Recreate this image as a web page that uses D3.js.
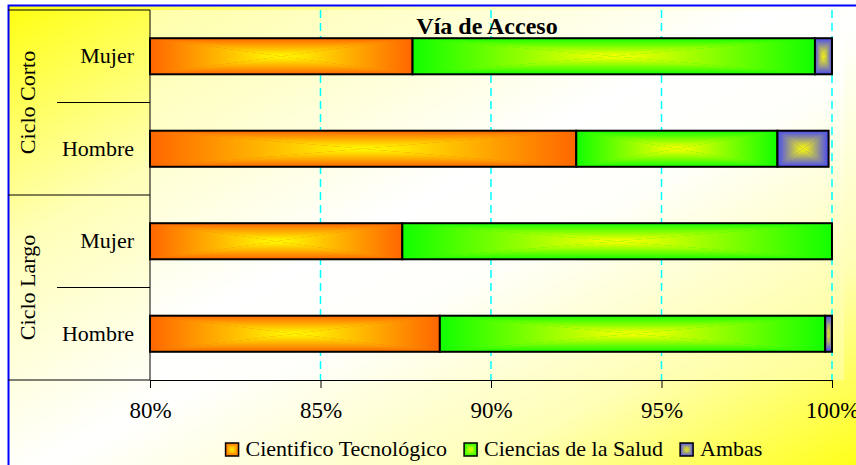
<!DOCTYPE html>
<html>
<head>
<meta charset="utf-8">
<script src="https://cdn.jsdelivr.net/npm/d3@7"></script>
<style>
  body { margin: 0; background: #fff; }
  svg { display: block; }
  text { font-family: "Liberation Serif", "Times New Roman", serif; fill: #000; }
</style>
</head>
<body>
<div id="chart"></div>
<script>
//Data (share of each row, in %)
var groups = ["Ciclo Corto", "Ciclo Largo"];
var rowLabels = ["Mujer", "Hombre", "Mujer", "Hombre"];
var rowGroups = ["Ciclo Corto", "Ciclo Corto", "Ciclo Largo", "Ciclo Largo"];
var seriesNames = ["Cientifico Tecnológico", "Ciencias de la Salud", "Ambas"];
var cientifico = [87.7, 92.5, 87.4, 88.5];
var salud = [11.8, 5.9, 12.6, 11.3];
var ambas = [0.5, 1.5, 0, 0.2];
var tickValues = [80, 85, 90, 95, 100];

//Colours of the box gradients (edge -> centre)
var edgeColors = ["#ff6600", "#11ff00", "#4848f4"];
var centerColor = "#ffff00";

var width = 856, height = 465;

var svg = d3.select("#chart").append("svg")
  .attr("width", width).attr("height", height);

var defs = svg.append("defs");

//background gradients
function diagGradient(id, stops) {
  var g = defs.append("linearGradient").attr("id", id)
    .attr("x1", 0).attr("y1", 0).attr("x2", 1).attr("y2", 1);
  stops.forEach(function(s) {
    g.append("stop").attr("offset", s[0]).attr("stop-color", s[1]);
  });
}
diagGradient("bg", [[0, "#ffff10"], [0.25, "#ffffb8"], [0.5, "#ffffff"], [0.75, "#ffffb8"], [1, "#ffff00"]]);
diagGradient("pbg", [[0, "#ffffa8"], [0.45, "#ffffff"], [0.6, "#fffffa"], [1, "#ffff90"]]);

//box gradients : one for each side of the rectangle
var keys = ["ct", "cs", "am"];
keys.forEach(function(k, i) {
  var dirs = {
    t: [0, 0, 0, 1, edgeColors[i], centerColor],
    b: [0, 0, 0, 1, centerColor, edgeColors[i]],
    l: [0, 0, 1, 0, edgeColors[i], centerColor],
    r: [0, 0, 1, 0, centerColor, edgeColors[i]]
  };
  Object.keys(dirs).forEach(function(d) {
    var v = dirs[d];
    var g = defs.append("linearGradient").attr("id", k + "-" + d)
      .attr("x1", v[0]).attr("y1", v[1]).attr("x2", v[2]).attr("y2", v[3]);
    g.append("stop").attr("offset", 0).attr("stop-color", v[4]);
    g.append("stop").attr("offset", 1).attr("stop-color", v[5]);
  });
});

//chart background + blue frame
svg.append("rect").attr("x", 8.5).attr("y", 5.5)
  .attr("width", 870).attr("height", 480)
  .attr("fill", "url(#bg)").attr("stroke", "#0000ff").attr("stroke-width", 2);

//scales
var x = d3.scaleLinear().domain([80, 100]).range([150, 832]);
var y = d3.scaleBand().domain(d3.range(rowLabels.length)).range([10, 380]);
var barH = y.bandwidth() * 0.39;

//plot area
svg.append("rect").attr("x", 150).attr("y", 10)
  .attr("width", 694).attr("height", 370)
  .attr("fill", "url(#pbg)");

//grid lines
svg.selectAll(".grid")
  .data(tickValues.slice(1))
  .enter().append("line")
  .attr("class", "grid")
  .attr("x1", function(d) { return x(d); })
  .attr("x2", function(d) { return x(d); })
  .attr("y1", 10).attr("y2", 380)
  .attr("stroke", "#00ffff").attr("stroke-width", 1.5)
  .attr("stroke-dasharray", "8,5");

//title
svg.append("text")
  .attr("x", 487).attr("y", 34)
  .attr("text-anchor", "middle")
  .attr("font-size", 24).attr("font-weight", "bold")
  .text("Vía de Acceso");

//table of the data for the stack
var table = rowLabels.map(function(r, i) {
  return { row: i, ct: cientifico[i], cs: salud[i], am: ambas[i] };
});
var stacked = d3.stack().keys(keys)(table);

//draws a rectangle with a gradient from the centre to the edges
function boxRect(g, x0, y0, x1, y1, k, sw) {
  var cx = (x0 + x1) / 2, cy = (y0 + y1) / 2;
  var i = keys.indexOf(k);
  g.append("rect").attr("x", x0).attr("y", y0)
    .attr("width", x1 - x0).attr("height", y1 - y0)
    .attr("fill", edgeColors[i]);
  var tris = [
    ["t", [[x0, y0], [x1, y0], [cx, cy]]],
    ["b", [[x0, y1], [x1, y1], [cx, cy]]],
    ["l", [[x0, y0], [x0, y1], [cx, cy]]],
    ["r", [[x1, y0], [x1, y1], [cx, cy]]]
  ];
  tris.forEach(function(t) {
    g.append("polygon")
      .attr("points", t[1].map(function(p) { return p.join(","); }).join(" "))
      .attr("fill", "url(#" + k + "-" + t[0] + ")");
  });
  g.append("rect").attr("x", x0).attr("y", y0)
    .attr("width", x1 - x0).attr("height", y1 - y0)
    .attr("fill", "none").attr("stroke", "#000").attr("stroke-width", sw);
}

//bars
var bars = svg.append("g").attr("class", "bars");
stacked.forEach(function(layer) {
  layer.forEach(function(d, i) {
    var a = Math.max(d[0], 80), b = d[1];
    if (b - a <= 0) return;
    var y0 = y(i) + (y.bandwidth() - barH) / 2;
    boxRect(bars.append("g"), x(a), y0, x(b), y0 + barH, layer.key, 2);
  });
});

//category table on the left
var lines = [
  [8, 10, 150, 10],
  [150, 10, 150, 380],
  [57, y(1), 150, y(1)],
  [8, y(2), 150, y(2)],
  [57, y(3), 150, y(3)],
  [8, 380, 150, 380]
];
svg.selectAll(".tline")
  .data(lines)
  .enter().append("line")
  .attr("class", "tline")
  .attr("x1", function(d) { return d[0]; }).attr("y1", function(d) { return d[1]; })
  .attr("x2", function(d) { return d[2]; }).attr("y2", function(d) { return d[3]; })
  .attr("stroke", "#000").attr("stroke-width", 1);

svg.selectAll(".rowlab")
  .data(rowLabels)
  .enter().append("text")
  .attr("class", "rowlab")
  .attr("x", 134)
  .attr("y", function(d, i) { return y(i) + y.bandwidth() / 2 + 7; })
  .attr("text-anchor", "end")
  .attr("font-size", 22)
  .text(function(d) { return d; });

svg.selectAll(".grplab")
  .data(groups)
  .enter().append("text")
  .attr("class", "grplab")
  .attr("transform", function(g) {
    var idx = rowGroups.map(function(r, i) { return r === g ? i : -1; }).filter(function(i) { return i >= 0; });
    var top = y(idx[0]), bot = y(idx[idx.length - 1]) + y.bandwidth();
    return "translate(35," + (top + bot) / 2 + ") rotate(-90)";
  })
  .attr("text-anchor", "middle")
  .attr("font-size", 22)
  .text(function(d) { return d; });

//x axis
var axis = svg.append("g")
  .attr("transform", "translate(0,380)")
  .call(d3.axisBottom(x).tickValues(tickValues).tickSize(8).tickSizeOuter(0)
    .tickFormat(function(d) { return d + "%"; }));
axis.select(".domain").attr("stroke", "#000");
axis.selectAll(".tick line").attr("stroke", "#000");
axis.selectAll(".tick text")
  .attr("y", 38).attr("dy", 0)
  .attr("font-size", 23)
  .attr("font-family", "Liberation Serif, Times New Roman, serif")
  .attr("fill", "#000");

//legend
var legend = svg.append("g").attr("class", "legend");
var lx = 0, items = [];
seriesNames.forEach(function(name, i) {
  var it = legend.append("g");
  var t = it.append("text").attr("x", lx + 20).attr("y", 456)
    .attr("font-size", 22).text(name);
  boxRect(it.append("g"), lx, 443, lx + 13, 456, keys[i], 1.5);
  lx += 20 + t.node().getComputedTextLength() + 17;
});
var legW = lx - 17;
legend.attr("transform", "translate(" + (494 - legW / 2) + ",0)");
</script>
</body>
</html>
